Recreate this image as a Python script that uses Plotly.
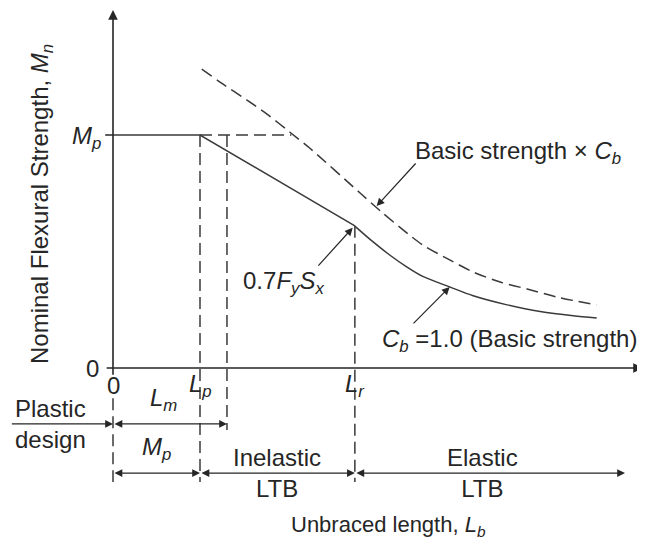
import plotly.graph_objects as go

# ---------------- data (Lb in units of Lp, Mn in units of Mp) ----------------
L0 = 0.0
Lp = 1.0
Lm = 1.31
Lr = 2.78
Mp = 1.0
Mr = 0.61            # 0.7 Fy Sx

# plateau + inelastic LTB (Cb = 1.0)
basic_Lb = [L0, Lp, Lr]
basic_Mn = [Mp, Mp, Mr]

# elastic LTB (Cb = 1.0)
elastic_Lb = [2.78, 2.99, 3.18, 3.38, 3.56, 3.87, 4.14, 4.53, 4.91, 5.29, 5.56]
elastic_Mn = [0.609, 0.541, 0.485, 0.433, 0.393, 0.348, 0.310, 0.271, 0.242, 0.224, 0.215]

# basic strength x Cb
cb_Lb = [1.02, 1.23, 1.54, 1.77, 2.03, 2.26, 2.84, 3.10, 3.38, 3.56, 3.87, 4.14, 4.45, 4.76, 5.10, 5.56]
cb_Mn = [1.283, 1.227, 1.150, 1.090, 1.013, 0.944, 0.751, 0.665, 0.579, 0.528, 0.464, 0.412, 0.369, 0.339, 0.305, 0.270]

# Mp cut-off of the Cb curve
Lcb_Mp = 2.05

# axis extents
x_axis_end = 6.09
y_axis_end = 1.536
elastic_arrow_end = 5.885

x_ticks = [L0, Lp, Lr]
x_tick_labels = ["0", "<i>L</i><sub><i>p</i></sub>", "<i>L</i><sub><i>r</i></sub>"]
y_ticks = [0.0, Mp]
y_tick_labels = ["0", "<i>M</i><sub><i>p</i></sub>"]

# ---------------- styling ----------------
INK = "#262626"
LINE = "#3a3a3a"
FONT = "Liberation Sans, Arial, sans-serif"
FS = 24
DASH = "12px,6px"

row1 = -0.240
row2 = -0.451
dim_bottom = -0.489

# page body has an 8px margin: shrink the figure so it fits the window
OFF = 8
PX_X, PX_Y = 87.0, 233.0          # pixels per data unit
X0_PX, Y0_PX = 113.0, 368.0       # origin position in the window
W, H = 645, 541

fig = go.Figure()

def line(xs, ys, dash=None, width=1.5, shape="linear", color=LINE):
    fig.add_trace(go.Scatter(
        x=xs, y=ys, mode="lines", hoverinfo="skip", showlegend=False,
        line=dict(color=color, width=width, dash=dash, shape=shape, smoothing=0.8),
    ))

# curves
line(basic_Lb, basic_Mn)
line(elastic_Lb, elastic_Mn, shape="spline")
line(cb_Lb, cb_Mn, dash=DASH, shape="spline")
line([Lp, Lcb_Mp], [Mp, Mp], dash=DASH)

# vertical dashed guides
line([L0, L0], [-0.13, dim_bottom], dash=DASH)
line([Lp, Lp], [Mp, dim_bottom], dash=DASH)
line([Lm, Lm], [Mp, -0.266], dash=DASH)
line([Lr, Lr], [Mr, dim_bottom], dash=DASH)

# ticks
line([-0.09, L0], [Mp, Mp], color=INK)

def arrow(x0, y0, x1, y1, both=False, width=1.2, size=1.3):
    fig.add_annotation(
        x=x1, y=y1, ax=x0, ay=y0, xref="x", yref="y", axref="x", ayref="y",
        text="", showarrow=True, arrowhead=2, arrowsize=size, arrowwidth=width,
        arrowcolor=INK, standoff=0, startstandoff=0,
        arrowside="end+start" if both else "end", startarrowhead=2, startarrowsize=size,
    )

# axes
arrow(L0, -0.035, L0, y_axis_end, width=1.6, size=1.2)
arrow(-0.09, 0, x_axis_end, 0, width=1.6, size=1.2)

# dimension arrows
arrow(-1.18, row1, L0, row1)
arrow(L0, row1, Lm, row1, both=True)
arrow(L0, row2, Lp, row2, both=True)
arrow(Lp, row2, Lr, row2, both=True)
arrow(Lr, row2, elastic_arrow_end, row2, both=True)

# callout arrows
arrow(3.494, 0.884, 3.03, 0.695)
arrow(2.345, 0.433, Lr - 0.025, Mr - 0.008)
arrow(3.437, 0.185, elastic_Lb[5], elastic_Mn[5])

def text(x, y, s, xanchor="center", yanchor="middle", size=FS, angle=0):
    fig.add_annotation(x=x, y=y, xref="x", yref="y", text=s, showarrow=False,
                       xanchor=xanchor, yanchor=yanchor, textangle=angle,
                       font=dict(family=FONT, size=size, color=INK))

# tick labels
for xv, lab in zip(x_ticks, x_tick_labels):
    text(xv, -0.075, lab)
text(-0.24, 0.0, y_tick_labels[0])
text(-0.11, Mp - 0.01, y_tick_labels[1], xanchor="right")

# region labels
text(-0.72, row1, "Plastic<br>design")
text(0.58, row1 + 0.03, "<i>L</i><sub><i>m</i></sub>", yanchor="bottom")
text(Lp / 2, row2 + 0.03, "<i>M</i><sub><i>p</i></sub>", yanchor="bottom")
text((Lp + Lr) / 2, row2, "Inelastic<br>LTB")
text((Lr + elastic_arrow_end) / 2 - 0.08, row2, "Elastic<br>LTB")

# callout labels
text(3.448, 0.927, "Basic strength × <i>C</i><sub><i>b</i></sub>", xanchor="left")
text(1.954, 0.365, "0.7<i>F</i><sub><i>y</i></sub><i>S</i><sub><i>x</i></sub>")
text(3.07, 0.118, "<i>C</i><sub><i>b</i></sub> =1.0 (Basic strength)", xanchor="left")

# axis titles
text(3.17, -0.676, "Unbraced length, <i>L</i><sub><i>b</i></sub>", size=22)
text(-0.816, 0.704, "Nominal Flexural Strength, <i>M</i><sub><i>n</i></sub>", angle=-90)

fig.update_layout(
    width=W - OFF, height=H - OFF,
    margin=dict(l=0, r=0, t=0, b=0, pad=0),
    paper_bgcolor="white", plot_bgcolor="white",
    xaxis=dict(visible=False, range=[(OFF - X0_PX) / PX_X, (W - X0_PX) / PX_X], fixedrange=True),
    yaxis=dict(visible=False, range=[(Y0_PX - H) / PX_Y, (Y0_PX - OFF) / PX_Y], fixedrange=True),
    showlegend=False,
)

fig.write_html("out.html")
